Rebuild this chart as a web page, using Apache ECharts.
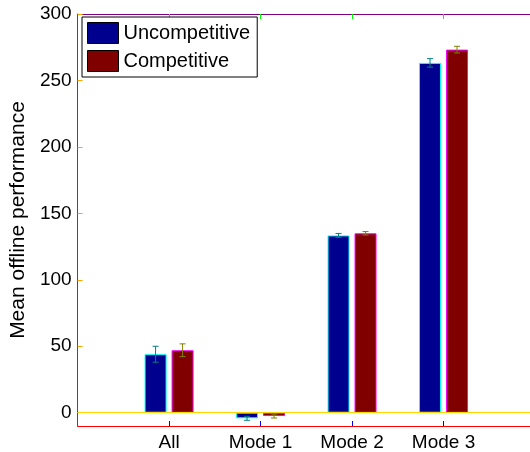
<!DOCTYPE html>
<html>
<head>
<meta charset="utf-8">
<script src="https://cdn.jsdelivr.net/npm/echarts@6/dist/echarts.min.js"></script>
<style>
  html, body { margin: 0; padding: 0; background: #fff; overflow: hidden; }
  #wrap { width: 530px; height: 452px; overflow: hidden; position: relative; background: #fff; }
  #chart { width: 600px; height: 452px; position: absolute; left: 0; top: 0; }
</style>
</head>
<body>
<div id="wrap"><div id="chart"></div></div>
<script>
const categories = ['', 'All', 'Mode 1', 'Mode 2', 'Mode 3', ''];
const seriesNames = ['Uncompetitive', 'Competitive'];
const uncompetitiveMean = [null, 44, -4.2, 133.4, 263.2, null];
const competitiveMean   = [null, 47, -2.5, 135, 273.2, null];
const uncompetitiveErr = [null, 6, 1.5, 1.5, 3.2, null];
const competitiveErr   = [null, 4.8, 1.5, 1.3, 2.5, null];
const yTicks = [0, 50, 100, 150, 200, 250, 300];

const BAR_W = 22;
const BAR_GAP = 5;
const FONT = 'Liberation Sans, Arial, Helvetica, sans-serif';

function errorSeries(means, errs, offset, col) {
  const data = [];
  means.forEach((m, i) => { if (m !== null) data.push([i, m - errs[i], m + errs[i]]); });
  return {
    type: 'custom', silent: true, z: 5, data: data,
    renderItem: function (params, api) {
      const c = api.value(0);
      const lo = api.coord([c, api.value(1)]);
      const hi = api.coord([c, api.value(2)]);
      const x = lo[0] + offset;
      const cap = 3;
      const st = { stroke: col, lineWidth: 1 };
      return { type: 'group', children: [
        { type: 'line', shape: { x1: x, y1: lo[1], x2: x, y2: hi[1] }, style: st },
        { type: 'line', shape: { x1: x - cap, y1: lo[1], x2: x + cap, y2: lo[1] }, style: st },
        { type: 'line', shape: { x1: x - cap, y1: hi[1], x2: x + cap, y2: hi[1] }, style: st }
      ] };
    }
  };
}

const chart = echarts.init(document.getElementById('chart'), null, { renderer: 'canvas' });
const innerTicks = function (i) { return i > 0 && i < categories.length - 1; };

chart.setOption({
  animation: false,
  grid: { left: 77, top: 14, width: 458, height: 412 },
  legend: {
    orient: 'vertical', left: 82, top: 17, data: seriesNames, icon: 'rect',
    itemWidth: 31, itemHeight: 21, itemGap: 6, padding: [5, 7, 5, 5],
    backgroundColor: '#fff', borderColor: '#000', borderWidth: 1, borderRadius: 0,
    textStyle: { fontSize: 20, color: '#000', fontFamily: FONT },
    itemStyle: { borderColor: '#000', borderWidth: 1 }
  },
  xAxis: [
    { type: 'category', data: categories, boundaryGap: false, position: 'bottom',
      axisLine: { onZero: false, lineStyle: { color: 'red', width: 1 } },
      axisTick: { inside: true, length: 5, lineStyle: { color: 'blue', width: 1 }, interval: innerTicks },
      axisLabel: { fontSize: 19, color: '#000', margin: 7, fontFamily: FONT } },
    { type: 'category', data: categories, boundaryGap: false, position: 'top',
      axisLine: { onZero: false, lineStyle: { color: 'purple', width: 1 } },
      axisTick: { inside: true, length: 5, lineStyle: { color: 'lime', width: 1 }, interval: innerTicks },
      axisLabel: { show: false } }
  ],
  yAxis: {
    type: 'value', min: -10, max: 300,
    name: 'Mean offline performance', nameLocation: 'middle', nameGap: 48,
    nameTextStyle: { fontSize: 21, color: '#000', fontFamily: FONT },
    axisLine: { show: true, lineStyle: { color: 'brown', width: 1 } },
    axisTick: { show: true, inside: true, length: 5, lineStyle: { color: 'orange', width: 1 }, customValues: yTicks },
    axisLabel: { fontSize: 19, color: '#000', margin: 6, fontFamily: FONT, customValues: yTicks },
    splitLine: { show: false }
  },
  series: [
    { name: seriesNames[0], type: 'bar', data: uncompetitiveMean, barWidth: BAR_W,
      barGap: (BAR_GAP / BAR_W * 100) + '%',
      itemStyle: { color: '#00008F', borderColor: 'cyan', borderWidth: 1 },
      markLine: { symbol: ['none', 'none'], label: { show: false },
        lineStyle: { color: 'gold', width: 1, type: 'solid' }, data: [{ yAxis: 0 }] } },
    { name: seriesNames[1], type: 'bar', data: competitiveMean, barWidth: BAR_W,
      barGap: (BAR_GAP / BAR_W * 100) + '%',
      itemStyle: { color: '#800000', borderColor: 'magenta', borderWidth: 1 } },
    errorSeries(uncompetitiveMean, uncompetitiveErr, -(BAR_W + BAR_GAP) / 2, 'teal'),
    errorSeries(competitiveMean, competitiveErr, (BAR_W + BAR_GAP) / 2, 'olive')
  ]
});
</script>
</body>
</html>
